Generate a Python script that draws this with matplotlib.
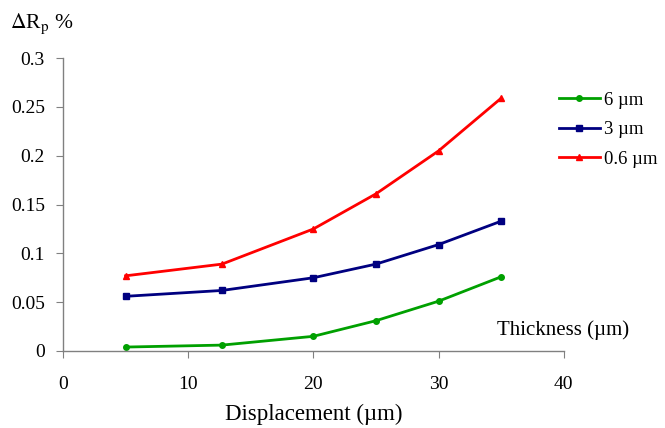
import matplotlib.pyplot as plt

displacement = [5, 12.7, 20, 25, 30, 35]
thick_6 = [0.004, 0.006, 0.015, 0.031, 0.051, 0.076]
thick_3 = [0.056, 0.062, 0.075, 0.089, 0.109, 0.133]
thick_06 = [0.077, 0.089, 0.125, 0.161, 0.205, 0.259]
labels = ["6 \u00b5m", "3 \u00b5m", "0.6 \u00b5m"]

plt.rcParams["font.family"] = ["Liberation Serif", "DejaVu Serif"]

fig = plt.figure(figsize=(6.65, 4.28), dpi=100)
ax = fig.add_axes([0.0947, 0.18, 0.753, 0.684])

ax.plot(displacement, thick_6, color="#00a000", marker="o", ms=4, lw=2, label=labels[0])
ax.plot(displacement, thick_3, color="#000080", marker="s", ms=4.5, lw=2, label=labels[1])
ax.plot(displacement, thick_06, color="#ff0000", marker="^", ms=5, lw=2, label=labels[2])

ax.set_xlim(0, 40)
ax.set_ylim(0, 0.3)
ax.set_xticks([0, 10, 20, 30, 40])
ax.set_yticks([0, 0.05, 0.1, 0.15, 0.2, 0.25, 0.3])
ax.set_yticklabels(["0", "0.05", "0.1", "0.15", "0.2", "0.25", "0.3"])
ax.spines["top"].set_visible(False)
ax.spines["right"].set_visible(False)
for s in ["left", "bottom"]:
    ax.spines[s].set_color("#808080")
    ax.spines[s].set_linewidth(1)
ax.tick_params(direction="out", length=5, color="#808080", labelsize=14)
ax.tick_params(axis="x", pad=13)
ax.tick_params(axis="y", pad=8)

ax.set_xlabel("Displacement (\u00b5m)", fontsize=16.5, labelpad=8)
fig.text(0.015, 0.945, r"$\Delta$R$_\mathrm{p}$ %", fontsize=15.5, ha="left", va="center",
         math_fontfamily="stix")
ax.text(34.7, 0.021, "Thickness (\u00b5m)", fontsize=15, ha="left", va="center")

ax.legend(loc="upper left", bbox_to_anchor=(0.99, 0.885), frameon=False, fontsize=13.5,
          borderpad=0, borderaxespad=0, handlelength=2.2, handletextpad=0.2,
          labelspacing=0.65)

fig.savefig("out.png", dpi=100)
